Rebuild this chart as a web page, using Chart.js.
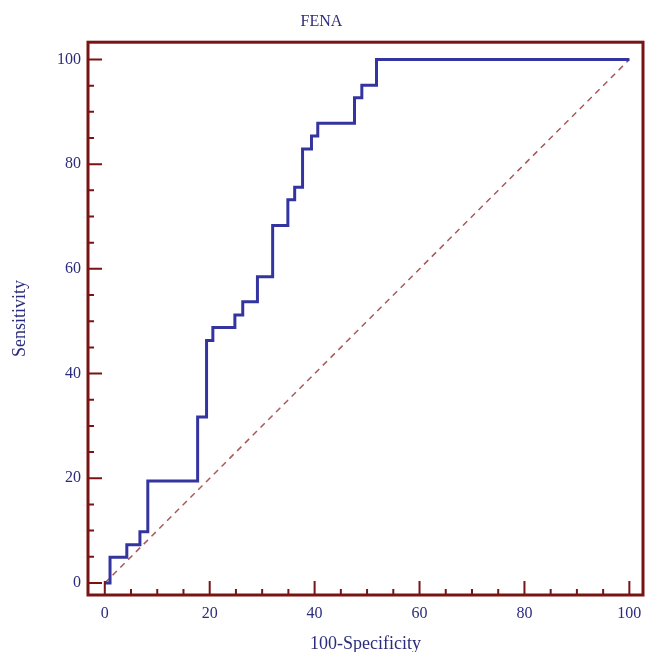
<!DOCTYPE html>
<html>
<head>
<meta charset="utf-8">
<script src="https://cdn.jsdelivr.net/npm/chart.js@4"></script>
<style>
  html, body { margin: 0; padding: 0; background: #fff; }
  #wrap { width: 645px; height: 652px; }
</style>
</head>
<body>
<div id="wrap"><canvas id="roc"></canvas></div>
<script>
'use strict';

// Curva ROC (esquinas de cada escalón)
const FPR = [0, 1.0, 4.2, 6.7, 8.2, 17.7, 19.4, 20.6, 24.8, 26.3, 29.1, 32.0,
             34.9, 36.2, 37.7, 39.4, 40.6, 47.6, 49.0, 51.8, 100];
const TPR = [0, 4.9, 7.3, 9.8, 19.5, 31.7, 46.3, 48.8, 51.2, 53.7, 58.5, 68.3,
             73.2, 75.6, 82.9, 85.4, 87.8, 92.7, 95.1, 100, 100];
// Diagonal de referencia
const REF_X = [0, 100];
const REF_Y = [0, 100];
const MAJOR_TICKS = [0, 20, 40, 60, 80, 100];
const MINOR_STEP = 5;

const NAVY  = '#2c2c7c';
const FRAME = '#7a1414';
const CURVE = '#3434a0';
const DIAG  = '#a85a5a';
const FONT  = "'Liberation Serif', 'DejaVu Serif', serif";

const toPts = (xs, ys) => xs.map((v, i) => ({ x: v, y: ys[i] }));

// Marco y marcas hacia dentro
const framePlugin = {
  id: 'frame',
  afterDraw(chart) {
    const { ctx, chartArea: a, scales: { x, y } } = chart;
    ctx.save();
    ctx.strokeStyle = FRAME;
    ctx.lineWidth = 2;
    for (let v = 0; v <= 100; v += MINOR_STEP) {
      const len = MAJOR_TICKS.includes(v) ? 14 : 6;
      const px = x.getPixelForValue(v);
      const py = y.getPixelForValue(v);
      ctx.beginPath();
      ctx.moveTo(px, a.bottom); ctx.lineTo(px, a.bottom - len);
      ctx.moveTo(a.left, py);   ctx.lineTo(a.left + len, py);
      ctx.stroke();
    }
    ctx.lineWidth = 3;
    ctx.strokeRect(a.left, a.top, a.right - a.left, a.bottom - a.top);
    ctx.restore();
  },
};

new Chart(document.getElementById('roc'), {
  type: 'line',
  data: {
    datasets: [
      {
        data: toPts(FPR, TPR),
        borderColor: CURVE, borderWidth: 3,
        stepped: 'before', pointRadius: 0, fill: false,
      },
      {
        data: toPts(REF_X, REF_Y),
        borderColor: DIAG, borderWidth: 1.5, borderDash: [6, 5],
        pointRadius: 0, fill: false,
      },
    ],
  },
  plugins: [framePlugin],
  options: {
    responsive: true, maintainAspectRatio: false, animation: false,
    layout: { padding: { left: 0, right: 2, top: 0, bottom: 0 } },
    plugins: {
      legend: { display: false },
      tooltip: { enabled: false },
      title: {
        display: true, text: 'FENA', color: NAVY,
        font: { family: FONT, size: 16, weight: 'normal' },
        padding: { top: 12, bottom: 11 },
      },
    },
    scales: {
      x: {
        type: 'linear', min: -3.2, max: 102.6,
        afterBuildTicks: s => { s.ticks = MAJOR_TICKS.map(v => ({ value: v })); },
        afterFit: s => { s.height = 57; s.paddingLeft = 0; s.paddingRight = 0; },
        grid: { display: false, drawTicks: false },
        border: { display: false },
        ticks: { color: NAVY, padding: 9, maxRotation: 0, font: { family: FONT, size: 16 } },
        title: {
          display: true, text: '100-Specificity', color: NAVY,
          font: { family: FONT, size: 18 }, padding: { top: 0, bottom: -3 },
        },
      },
      y: {
        type: 'linear', min: -2.3, max: 103.3,
        afterBuildTicks: s => { s.ticks = MAJOR_TICKS.map(v => ({ value: v })); },
        afterFit: s => { s.width = 88; s.paddingTop = 0; s.paddingBottom = 0; },
        grid: { display: false, drawTicks: false },
        border: { display: false },
        ticks: { color: NAVY, padding: 7, font: { family: FONT, size: 16 } },
        title: {
          display: true, text: 'Sensitivity', color: NAVY,
          font: { family: FONT, size: 18 }, padding: { top: 9, bottom: 0 },
        },
      },
    },
  },
});
</script>
</body>
</html>
